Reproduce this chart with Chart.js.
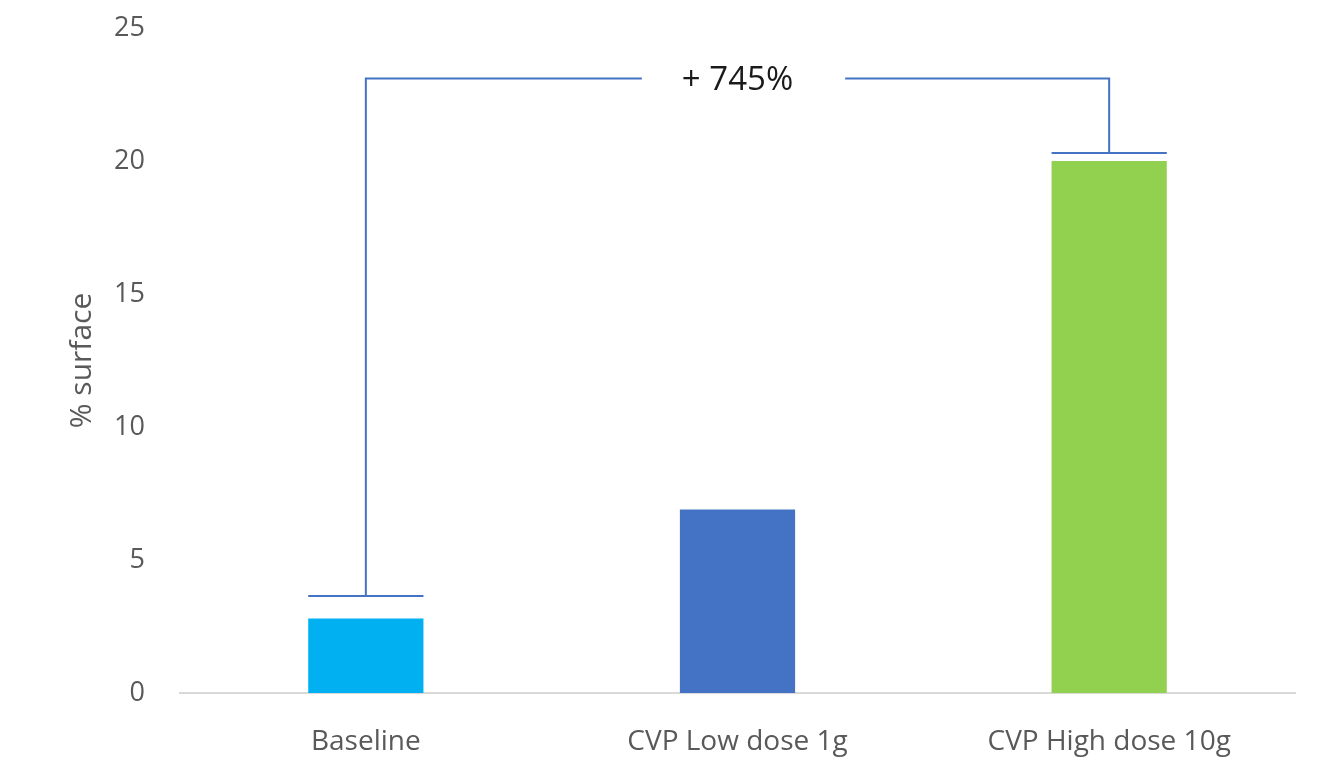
<!DOCTYPE html>
<html>
<head>
<meta charset="utf-8">
<script src="https://cdn.jsdelivr.net/npm/chart.js@4"></script>
<style>
  html, body { margin: 0; padding: 0; background: #ffffff; }
  #wrap { width: 1343px; height: 779px; }
</style>
</head>
<body>
<div id="wrap"><canvas id="myChart" width="1343" height="779"></canvas></div>
<script>
// Surface coverage per dose group
const categories = ["Baseline", "CVP Low dose 1g", "CVP High dose 10g"];
const surfaceValues = [2.8, 6.9, 20.0];
const barColors = ["#00B0F0", "#4472C4", "#92D050"];
const yTicks = [0, 5, 10, 15, 20, 25];

// Comparison bracket between baseline and high dose
const bracketFrom = 0;
const bracketTo = 2;
const bracketTop = 23.1;
const bracketCaps = [3.65, 20.3];
const bracketLabel = "+ 745%";

const labelFont = "'Open Sans', 'Liberation Sans', sans-serif";

// draws the bracket with its label, using the chart's scales
const bracketPlugin = {
  id: "bracket",
  afterDatasetsDraw(chart) {
    const { ctx, scales } = chart;
    const x = scales.x;
    const y = scales.y;
    const meta = chart.getDatasetMeta(0);
    const x1 = x.getPixelForValue(bracketFrom);
    const x2 = x.getPixelForValue(bracketTo);
    const yTop = y.getPixelForValue(bracketTop);
    const yCap1 = y.getPixelForValue(bracketCaps[0]);
    const yCap2 = y.getPixelForValue(bracketCaps[1]);
    const w1 = meta.data[bracketFrom].width / 2;
    const w2 = meta.data[bracketTo].width / 2;

    ctx.save();
    ctx.font = "33px " + labelFont;
    ctx.fillStyle = "#1a1a1a";
    ctx.textAlign = "center";
    ctx.textBaseline = "middle";
    const midX = (x1 + x2) / 2;
    const textW = ctx.measureText(bracketLabel).width;
    ctx.fillText(bracketLabel, midX, yTop + 2);

    ctx.strokeStyle = "#4472C4";
    ctx.lineWidth = 2;
    ctx.beginPath();
    // left cap and riser
    ctx.moveTo(x1 - w1, yCap1);
    ctx.lineTo(x1 + w1, yCap1);
    ctx.moveTo(x1, yCap1);
    ctx.lineTo(x1, yTop);
    ctx.lineTo(midX - textW / 2 - 40, yTop);
    // right part
    ctx.moveTo(midX + textW / 2 + 52, yTop);
    ctx.lineTo(x2, yTop);
    ctx.lineTo(x2, yCap2);
    ctx.moveTo(x2 - w2, yCap2);
    ctx.lineTo(x2 + w2, yCap2);
    ctx.stroke();
    ctx.restore();
  },
};

const data = {
  labels: categories,
  datasets: [
    {
      label: "% surface",
      data: surfaceValues,
      backgroundColor: barColors,
      borderWidth: 0,
      categoryPercentage: 1.0,
      barPercentage: 0.31,
    },
  ],
};

const config = {
  type: "bar",
  data: data,
  options: {
    responsive: false,
    animation: false,
    layout: {
      padding: { top: 28, right: 48, left: 0, bottom: 0 },
    },
    plugins: {
      legend: { display: false },
      tooltip: { enabled: false },
    },
    scales: {
      x: {
        grid: { display: false, drawTicks: false },
        border: { display: true, color: "#d9d9d9", width: 2 },
        ticks: {
          color: "#595959",
          padding: 32,
          maxRotation: 0,
          font: { family: labelFont, size: 28 },
        },
        afterFit(scale) {
          scale.height = 86;
          scale.paddingLeft = 0;
          scale.paddingRight = 0;
        },
      },
      y: {
        min: 0,
        max: 25,
        afterBuildTicks(scale) {
          scale.ticks = yTicks.map((v) => ({ value: v }));
        },
        grid: { display: false, drawTicks: false },
        border: { display: false },
        ticks: {
          color: "#595959",
          padding: 35,
          font: { family: labelFont, size: 27 },
        },
        title: {
          display: true,
          text: "% surface",
          color: "#595959",
          font: { family: labelFont, size: 30 },
          padding: { top: 64, bottom: 0 },
        },
        afterFit(scale) {
          scale.width = 180;
          scale.paddingTop = 0;
          scale.paddingBottom = 0;
        },
      },
    },
  },
  plugins: [bracketPlugin],
};

new Chart(document.getElementById("myChart"), config);
</script>
</body>
</html>
